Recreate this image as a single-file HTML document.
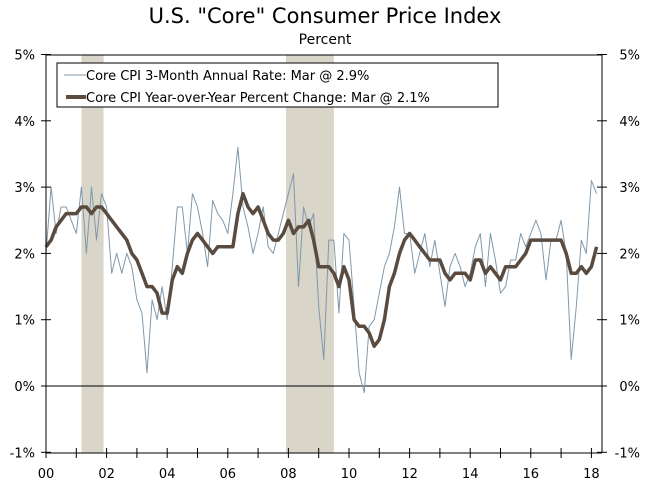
<!DOCTYPE html>
<html><head><meta charset="utf-8"><style>
body{margin:0;background:#fff;}
svg text{font-family:"DejaVu Sans","Liberation Sans",sans-serif;fill:#000;}
</style></head><body>
<svg id="chart" width="658" height="493" xmlns="http://www.w3.org/2000/svg">
<text x="325" y="23" text-anchor="middle" font-size="21">U.S. "Core" Consumer Price Index</text>
<text x="325" y="44" text-anchor="middle" font-size="14">Percent</text>
<g id="rec"></g><g id="grid"></g><g id="series"></g><g id="axes"></g>
<g>
<rect x="57" y="63" width="441" height="44" fill="#fff" stroke="#000" stroke-width="1"/>
<line x1="64" y1="75" x2="86" y2="75" stroke="#7f98ab" stroke-width="1"/>
<text x="86" y="80" font-size="13">Core CPI 3-Month Annual Rate: Mar @ 2.9%</text>
<line x1="66" y1="97" x2="86" y2="97" stroke="#594b40" stroke-width="4"/>
<text x="86" y="102" font-size="13">Core CPI Year-over-Year Percent Change: Mar @ 2.1%</text>
</g>
</svg>
<script>
const yoyValues=[2.1,2.2,2.4,2.5,2.6,2.6, 2.6,2.7,2.7,2.6,2.7,2.7, 2.6,2.5,2.4,2.3,2.2,2.0, 1.9,1.7,1.5,1.5,1.4,1.1, 1.1,1.6,1.8,1.7,2.0,2.2, 2.3,2.2,2.1,2.0,2.1,2.1, 2.1,2.1,2.6,2.9,2.7,2.6, 2.7,2.5,2.3,2.2,2.2,2.3, 2.5,2.3,2.4,2.4,2.5,2.2, 1.8,1.8,1.8,1.7,1.5,1.8, 1.6,1.0,0.9,0.9,0.8,0.6, 0.7,1.0,1.5,1.7,2.0,2.2, 2.3,2.2,2.1,2.0,1.9,1.9, 1.9,1.7,1.6,1.7,1.7,1.7, 1.6,1.9,1.9,1.7,1.8,1.7, 1.6,1.8,1.8,1.8,1.9,2.0, 2.2,2.2,2.2,2.2,2.2,2.2, 2.2,2.0,1.7,1.7,1.8,1.7, 1.8,2.1];
const rate3mValues=[2.0,3.0,2.3,2.7,2.7,2.5, 2.3,3.0,2.0,3.0,2.2,2.9, 2.7,1.7,2.0,1.7,2.0,1.8, 1.3,1.1,0.2,1.3,1.0,1.5, 1.0,1.8,2.7,2.7,2.0,2.9, 2.7,2.3,1.8,2.8,2.6,2.5, 2.3,2.9,3.6,2.7,2.4,2.0, 2.3,2.7,2.1,2.0,2.3,2.6, 2.9,3.2,1.5,2.7,2.4,2.6, 1.2,0.4,2.2,2.2,1.1,2.3, 2.2,1.2,0.2,-0.1,0.9,1.0, 1.4,1.8,2.0,2.4,3.0,2.3, 2.3,1.7,2.0,2.3,1.8,2.2, 1.7,1.2,1.8,2.0,1.8,1.5, 1.7,2.1,2.3,1.5,2.3,1.9, 1.4,1.5,1.9,1.9,2.3,2.1, 2.3,2.5,2.3,1.6,2.2,2.2, 2.5,2.0,0.4,1.2,2.2,2.0, 3.1,2.9];
const recessions=[[2001.17,2001.9],[2007.92,2009.5]];
const yTicks=[-1,0,1,2,3,4,5];
const xTickLabels=["00","02","04","06","08","10","12","14","16","18"];
const NS="http://www.w3.org/2000/svg";
const X0=46,XPY=30.3,Y0=386,PPP=66.3,XR=602,YT=55,YB=453;
const xs=t=>X0+(t-2000)*XPY, ys=v=>Y0-v*PPP;
const dateOf=i=>2000+i/6;
function mk(tag,attrs,parent){const e=document.createElementNS(NS,tag);for(const k in attrs)e.setAttribute(k,attrs[k]);document.getElementById(parent).appendChild(e);return e;}
recessions.forEach(r=>{const e=mk('rect',{x:xs(r[0]),y:YT,width:xs(r[1])-xs(r[0]),height:YB-YT,fill:'#d9d5c9'},'rec');

});
const z=mk('line',{x1:X0,x2:XR,y1:ys(0),y2:ys(0),stroke:'#000','stroke-width':1},'grid');


function path(vals,color,w,name){const d=vals.map((v,i)=>(i?'L':'M')+xs(i===vals.length-1&&i===109?2018.17:dateOf(i)).toFixed(1)+','+ys(v).toFixed(1)).join('');
const p=mk('path',{d:d,fill:'none',stroke:color,'stroke-width':w,'stroke-linejoin':'round'},'series');

}
path(rate3mValues,'#7f98ab',1,'line-3-month-rate');
path(yoyValues,'#594b40',3.5,'line-year-over-year');
mk('line',{x1:X0,x2:X0,y1:YT,y2:YB,stroke:'#000'},'axes');
mk('line',{x1:XR,x2:XR,y1:YT,y2:YB,stroke:'#000'},'axes');
mk('line',{x1:X0,x2:XR,y1:YT,y2:YT,stroke:'#000'},'axes');
mk('line',{x1:X0,x2:XR,y1:YB,y2:YB,stroke:'#000'},'axes');
yTicks.forEach(v=>{const y=ys(v);
mk('line',{x1:X0-5,x2:X0+5,y1:y,y2:y,stroke:'#000'},'axes');
mk('line',{x1:XR-5,x2:XR+5,y1:y,y2:y,stroke:'#000'},'axes');
const l=mk('text',{x:35,y:y+5,'text-anchor':'end','font-size':13},'axes');l.textContent=v+'%';


const r=mk('text',{x:640,y:y+5,'text-anchor':'end','font-size':13},'axes');r.textContent=v+'%';

});
for(let yr=2000;yr<=2018;yr++){const x=xs(yr);mk('line',{x1:x,x2:x,y1:YB-5,y2:YB+5,stroke:'#000'},'axes');}
xTickLabels.forEach((s,i)=>{const t=mk('text',{x:xs(2000+2*i),y:478,'text-anchor':'middle','font-size':13},'axes');t.textContent=s;

});
</script>
</body></html>
